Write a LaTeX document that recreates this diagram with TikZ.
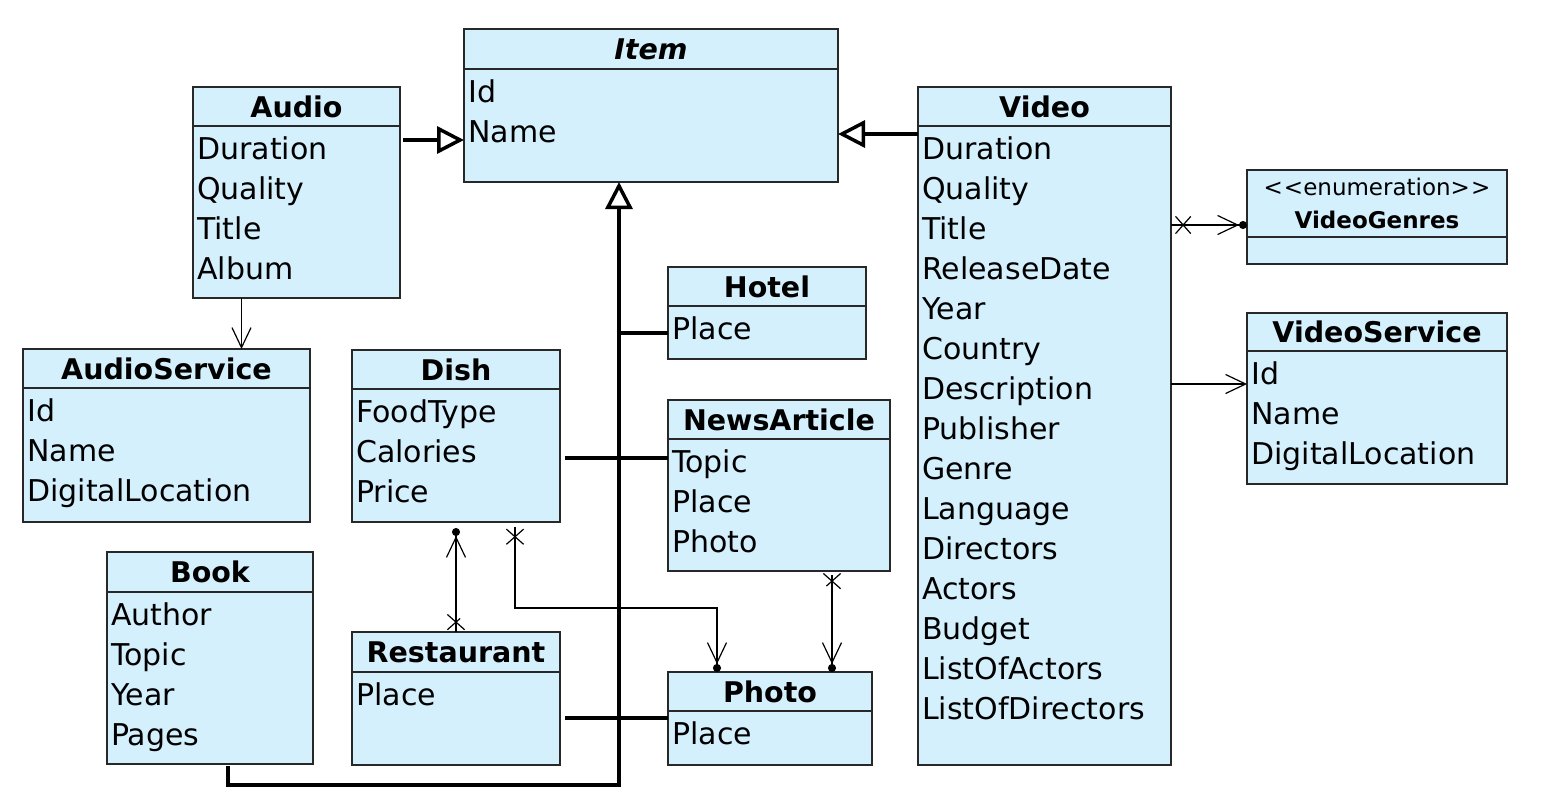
\documentclass[tikz,border=0pt]{standalone}
\usepackage{fontspec}
\setmainfont{DejaVu Sans}
\usetikzlibrary{arrows.meta,shapes.misc,positioning,calc}

\definecolor{clsblue}{RGB}{212,240,253}
\definecolor{linegray}{RGB}{40,40,40}
\newcommand\attrfont{\fontsize{30}{40}\selectfont}
\newcommand\titlefont{\fontsize{28.5}{34}\selectfont\bfseries}
\newcommand\stereofont{\fontsize{23}{33}\selectfont}

\tikzset{
  clshead/.style={draw=linegray, fill=clsblue, line width=1.2pt, inner sep=0pt, outer sep=0pt, anchor=north west, font=\titlefont},
  clsbody/.style={draw=linegray, fill=clsblue, line width=1.2pt, inner sep=0pt, outer sep=0pt, anchor=north west},
  attrs/.style={anchor=north west, align=left, inner xsep=4pt, inner ysep=0pt, yshift=-10.5pt, font=\attrfont},
  inherit/.style={line width=4pt, -{Triangle[open,length=27pt,width=27pt,line width=3.5pt]}},
  genline/.style={line width=4pt},
  assoc/.style={line width=1.2pt, -{Straight Barb[length=20pt,width=19pt,line width=1.2pt]}},
  assocdot/.style={line width=1.2pt, -{Straight Barb[length=20pt,width=19pt,line width=1.2pt] Circle[length=8pt]}},
  xmark/.style={cross out, draw, line width=1.2pt, minimum width=14pt, minimum height=16pt, inner sep=0pt},
}

\begin{document}
\begin{tikzpicture}[x=1pt,y=-1pt]
  \useasboundingbox (0,0) rectangle (1548,809);

  % Item
  \node[clshead, minimum width=374pt, minimum height=40pt] (item) at (464,29) {\itshape Item};
  \node[clsbody, minimum width=374pt, minimum height=113pt] (item-b) at (item.south west) {};
  \node[attrs] (item-t) at (item-b.north west) {Id\\Name};

  % Audio
  \node[clshead, minimum width=207pt, minimum height=39pt] (audio) at (193,87) {Audio};
  \node[clsbody, minimum width=207pt, minimum height=172pt] (audio-b) at (audio.south west) {};
  \node[attrs] (audio-t) at (audio-b.north west) {Duration\\Quality\\Title\\Album};

  % Video
  \node[clshead, minimum width=253pt, minimum height=39pt] (video) at (918,87) {Video};
  \node[clsbody, minimum width=253pt, minimum height=639pt] (video-b) at (video.south west) {};
  \node[attrs] (video-t) at (video-b.north west) {Duration\\Quality\\Title\\ReleaseDate\\Year\\Country\\Description\\Publisher\\Genre\\Language\\Directors\\Actors\\Budget\\ListOfActors\\ListOfDirectors};

  % VideoGenres
  \node[clshead, minimum width=260pt, minimum height=67pt, align=center, font=\stereofont] (genres) at (1247,170)
    {<\kern1pt<enumeration>\kern1pt>\\\bfseries VideoGenres};
  \node[clsbody, minimum width=260pt, minimum height=27pt] (genres-b) at (genres.south west) {};

  % VideoService
  \node[clshead, minimum width=260pt, minimum height=38pt] (vservice) at (1247,313) {VideoService};
  \node[clsbody, minimum width=260pt, minimum height=133pt] (vservice-b) at (vservice.south west) {};
  \node[attrs] (vservice-t) at (vservice-b.north west) {Id\\Name\\DigitalLocation};

  % AudioService
  \node[clshead, minimum width=287pt, minimum height=39pt] (aservice) at (23,349) {AudioService};
  \node[clsbody, minimum width=287pt, minimum height=134pt] (aservice-b) at (aservice.south west) {};
  \node[attrs] (aservice-t) at (aservice-b.north west) {Id\\Name\\DigitalLocation};

  % Dish
  \node[clshead, minimum width=208pt, minimum height=39pt] (dish) at (352,350) {Dish};
  \node[clsbody, minimum width=208pt, minimum height=133pt] (dish-b) at (dish.south west) {};
  \node[attrs] (dish-t) at (dish-b.north west) {FoodType\\Calories\\Price};

  % Hotel
  \node[clshead, minimum width=198pt, minimum height=39pt] (hotel) at (668,267) {Hotel};
  \node[clsbody, minimum width=198pt, minimum height=53pt] (hotel-b) at (hotel.south west) {};
  \node[attrs] (hotel-t) at (hotel-b.north west) {Place};

  % NewsArticle
  \node[clshead, minimum width=222pt, minimum height=39pt] (news) at (668,400) {NewsArticle};
  \node[clsbody, minimum width=222pt, minimum height=132pt] (news-b) at (news.south west) {};
  \node[attrs] (news-t) at (news-b.north west) {Topic\\Place\\Photo};

  % Book
  \node[clshead, minimum width=206pt, minimum height=40pt] (book) at (107,552) {Book};
  \node[clsbody, minimum width=206pt, minimum height=172pt] (book-b) at (book.south west) {};
  \node[attrs] (book-t) at (book-b.north west) {Author\\Topic\\Year\\Pages};

  % Restaurant
  \node[clshead, minimum width=208pt, minimum height=40pt] (rest) at (352,632) {Restaurant};
  \node[clsbody, minimum width=208pt, minimum height=93pt] (rest-b) at (rest.south west) {};
  \node[attrs] (rest-t) at (rest-b.north west) {Place};

  % Photo
  \node[clshead, minimum width=204pt, minimum height=39pt] (photo) at (668,672) {Photo};
  \node[clsbody, minimum width=204pt, minimum height=54pt] (photo-b) at (photo.south west) {};
  \node[attrs] (photo-t) at (photo-b.north west) {Place};

  % generalisations
  \coordinate (a2i) at ([yshift=-14pt]audio-b.north east);
  \draw[inherit, shorten <=3pt] (a2i) -- (a2i -| item-b.west);
  \coordinate (v2i) at ([yshift=-8pt]video-b.north west);
  \draw[inherit] (v2i) -- (v2i -| item-b.east);
  \coordinate (bus) at ([xshift=-32pt]item-b.south |- 0,785);
  \draw[inherit, shorten <=2pt] ([xshift=18pt]book-b.south) |- (bus) -- (bus |- item-b.south);
  \draw[genline] (hotel-b.west) -- (hotel-b.west -| bus);
  \coordinate (n2b) at ([yshift=-19pt]news-b.north west);
  \draw[genline, shorten <=5pt] (n2b -| dish-b.east) -- (n2b);
  \coordinate (p2b) at ([yshift=-7pt]photo-b.north west);
  \draw[genline, shorten <=5pt] (p2b -| rest-b.east) -- (p2b);

  % associations
  \coordinate (a2s) at ([xshift=-55pt]audio-b.south);
  \draw[assoc] (a2s) -- (a2s |- aservice.north);
  \coordinate (v2g) at ([yshift=12pt]genres.south west);
  \draw[assocdot] (v2g -| video-b.east) -- node[xmark, pos=0.16] (v2g-x) {} (v2g);
  \coordinate (v2s) at ([yshift=-33pt]vservice-b.north west);
  \draw[assoc] (v2s -| video-b.east) -- (v2s);
  \draw[assocdot, shorten >=6pt] (rest.north) -- node[xmark, pos=0.09, rotate=90] (r2d-x) {} (dish-b.south);
  \coordinate (d2p) at ([xshift=59pt,yshift=-5pt]dish-b.south);
  \coordinate (d2p-end) at ([xshift=-53pt]photo.north);
  \draw[assocdot] (d2p) -- node[xmark, pos=0.12, rotate=90] (d2p-x) {} ++(0,81) -| (d2p-end);
  \coordinate (n2p) at ([xshift=62pt]photo.north);
  \draw[assocdot, shorten <=4pt] (n2p |- news-b.south) -- node[xmark, pos=0.1, rotate=90] (n2p-x) {} (n2p);
\end{tikzpicture}
\end{document}
